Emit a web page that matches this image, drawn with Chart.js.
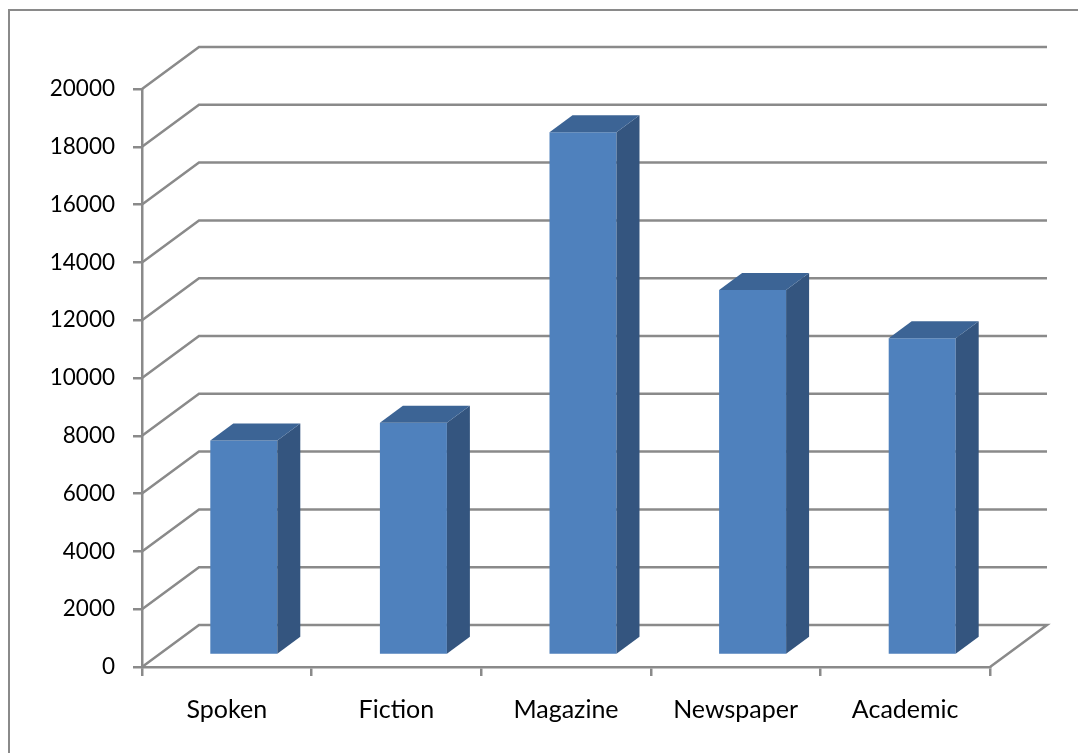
<!DOCTYPE html>
<html>
<head>
<meta charset="utf-8">
<script src="https://cdn.jsdelivr.net/npm/chart.js@4.4.0/dist/chart.umd.min.js"></script>
<style>
  html, body { margin: 0; padding: 0; background: #fff; overflow: hidden; }
  canvas { display: block; }
</style>
</head>
<body>
<canvas id="chart" width="1078" height="753"></canvas>
<script>
// Word frequency per genre
const categories = ['Spoken', 'Fiction', 'Magazine', 'Newspaper', 'Academic'];
const frequencies = [7420, 8040, 18090, 12630, 10960];
const yTicks = [0, 2000, 4000, 6000, 8000, 10000, 12000, 14000, 16000, 18000, 20000];

const GRID = '#8a8a8a';
const FRONT = '#4f81bd';
const SIDE = '#34557f';
const TOP = '#3c6495';
const WALL = { dx: 57, dy: -42 };     // depth of the floor / walls
const SHIFT = { dx: 17, dy: -12 };    // bars sit a little behind the front edge
const DEPTH = { dx: 23, dy: -17 };    // depth of each bar

const box3d = {
  id: 'box3d',
  beforeDraw(chart) {
    const ctx = chart.ctx;
    ctx.save();
    ctx.strokeStyle = GRID;
    ctx.lineWidth = 2;
    ctx.strokeRect(9, 10, 1200, 1000);
    ctx.restore();
  },
  beforeDatasetsDraw(chart) {
    const { ctx, chartArea: a, scales: { y } } = chart;
    ctx.save();
    ctx.strokeStyle = GRID;
    ctx.lineWidth = 2.5;
    ctx.lineJoin = 'miter';
    yTicks.forEach(v => {
      const py = y.getPixelForValue(v);
      ctx.beginPath();
      ctx.moveTo(a.left, py);
      ctx.lineTo(a.left + WALL.dx, py + WALL.dy);
      ctx.lineTo(a.right + WALL.dx, py + WALL.dy);
      if (v === 0) ctx.lineTo(a.right, py);
      ctx.stroke();
    });
    ctx.restore();
    ctx.save();
    ctx.translate(SHIFT.dx, SHIFT.dy);
  },
  afterDatasetsDraw(chart) {
    const ctx = chart.ctx;
    chart.getDatasetMeta(0).data.forEach(bar => {
      const { x, y, base, width } = bar.getProps(['x', 'y', 'base', 'width'], true);
      const l = x - width / 2, r = x + width / 2;
      ctx.fillStyle = SIDE;
      ctx.beginPath();
      ctx.moveTo(r, y);
      ctx.lineTo(r + DEPTH.dx, y + DEPTH.dy);
      ctx.lineTo(r + DEPTH.dx, base + DEPTH.dy);
      ctx.lineTo(r, base);
      ctx.closePath();
      ctx.fill();
      ctx.fillStyle = TOP;
      ctx.beginPath();
      ctx.moveTo(l, y);
      ctx.lineTo(l + DEPTH.dx, y + DEPTH.dy);
      ctx.lineTo(r + DEPTH.dx, y + DEPTH.dy);
      ctx.lineTo(r, y);
      ctx.closePath();
      ctx.fill();
    });
    ctx.restore();
  }
};

Chart.defaults.font.family = 'Lato, "Open Sans", sans-serif';
Chart.defaults.font.size = 22;
Chart.defaults.color = '#000';

new Chart(document.getElementById('chart'), {
  type: 'bar',
  data: {
    labels: categories,
    datasets: [{
      data: frequencies,
      backgroundColor: FRONT,
      borderWidth: 0,
      categoryPercentage: 1,
      barPercentage: 0.395,
      clip: false
    }]
  },
  options: {
    responsive: false,
    animation: false,
    devicePixelRatio: 1,
    layout: { padding: { left: 0, top: 89, right: 88, bottom: 0 } },
    plugins: { legend: { display: false }, tooltip: { enabled: false } },
    scales: {
      x: {
        grid: { drawOnChartArea: false, offset: true, tickLength: 9, color: GRID, lineWidth: 2.5 },
        border: { display: true, color: GRID, width: 2.5 },
        ticks: { padding: 19, maxRotation: 0, font: { size: 25 } },
        afterFit(s) { s.height = 86; }
      },
      y: {
        min: 0,
        max: 20000,
        afterBuildTicks(s) { s.ticks = yTicks.map(v => ({ value: v })); },
        grid: { drawOnChartArea: false, tickLength: 9, color: GRID, lineWidth: 2.5 },
        border: { display: true, color: GRID, width: 2.5 },
        ticks: { padding: 18, font: { size: 22.5 }, callback: v => String(v) },
        afterFit(s) { s.width = 142; }
      }
    }
  },
  plugins: [box3d]
});
</script>
</body>
</html>
